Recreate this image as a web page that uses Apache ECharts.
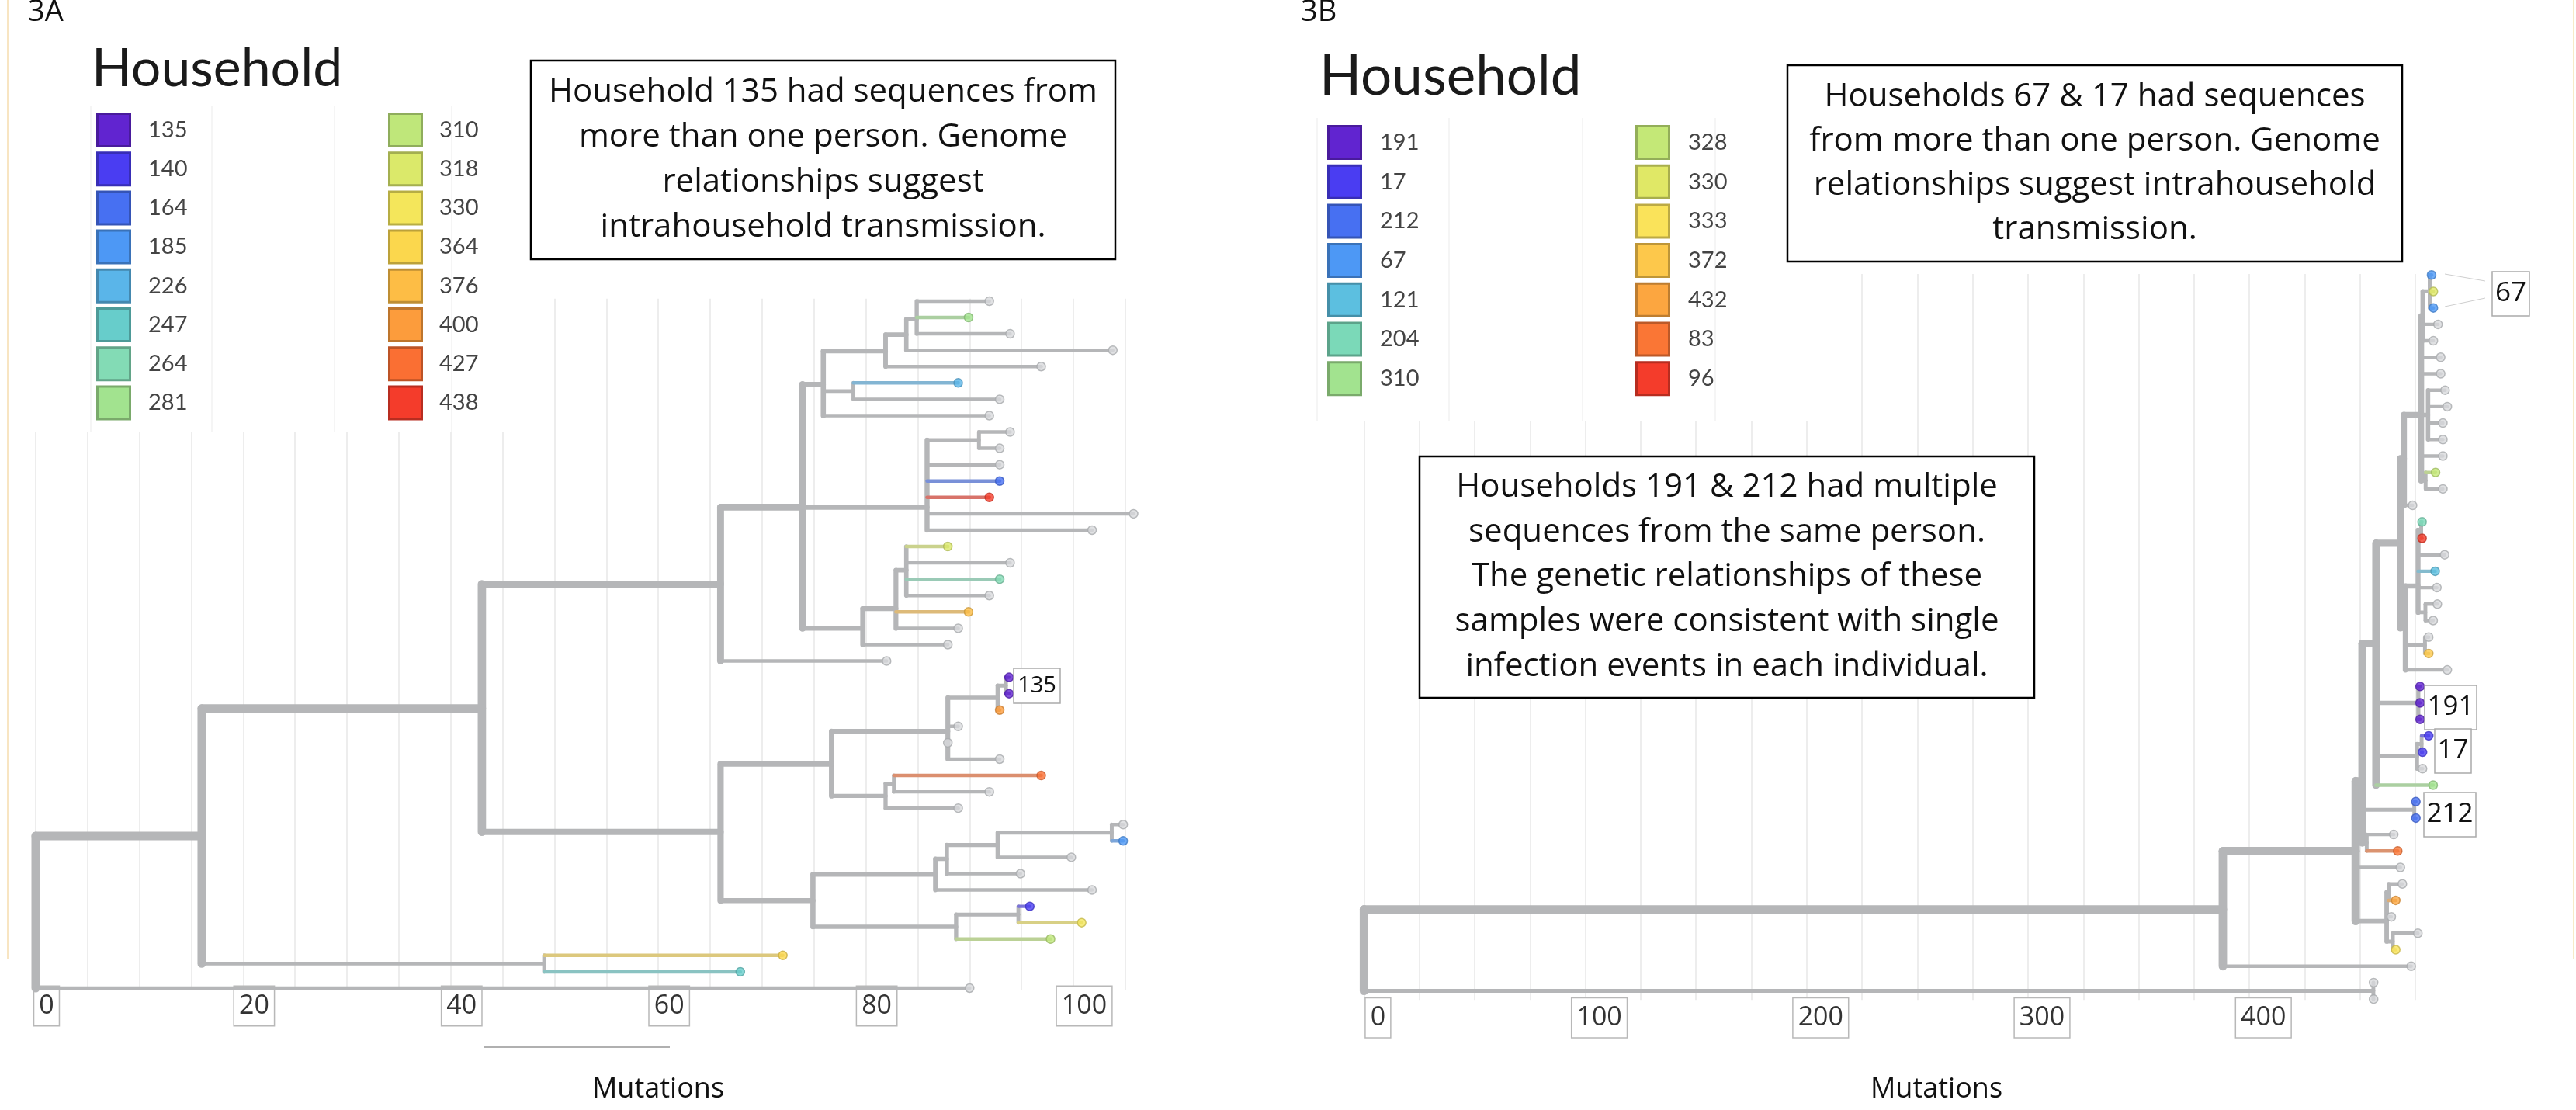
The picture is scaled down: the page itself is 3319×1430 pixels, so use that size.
<!DOCTYPE html>
<html><head><meta charset="utf-8">
<script src="https://cdn.jsdelivr.net/npm/echarts@6/dist/echarts.min.js"></script>
<style>html,body{margin:0;padding:0;background:#fff}#c{width:3319px;height:1430px}</style>
</head><body><div id="c"></div>
<script>
// ---------------- DATA ----------------
const legendHouseA = ['135','140','164','185','226','247','264','281','310','318','330','364','376','400','427','438'];
const legendColorA = ['#6124d0','#4a3df2','#4770f2','#4d98f5','#5ab5e9','#67cdcb','#83dbb5','#a2e38f','#bfe77a','#dbe96a','#f4e65b','#fbd74d','#fdbd45','#fc9c3c','#fa6f33','#f43c2b'];
const legendHouseB = ['191','17','212','67','121','204','310','328','330','333','372','432','83','96'];
const legendColorB = ['#6124d0','#4a3df2','#4770f2','#4d98f5','#5cbfe0','#7bd9b8','#a2e38f','#c4e877','#e0e866','#fae35a','#fdc84b','#fca640','#fa7635','#f43c2b'];

const tickLabelsA = [0,20,40,60,80,100];
const tickLabelsB = [0,100,200,300,400];

// tree nodes: [id, parent, mutations, row, household]
const treeA = [
 ['r',null,0,37.35,''],
 ['n1','r',16,32.7,''], ['t42','r',90,42,''],
 ['n2','n1',43,24.9,''], ['n3','n1',49,40.5,''],
 ['t40','n3',72,40,'364'], ['t41','n3',67.9,41,'247'],
 ['n4','n2',66,17.3,''], ['n5','n2',66,32.45,''],
 ['nx','n4',73.9,12.6,''], ['t22','n4',82,22,''],
 ['ne','nx',75.9,5.1,''], ['nf','nx',85.9,12.6,''], ['nh','nx',79.7,20,''],
 ['nc','ne',81.9,3.05,''], ['nd','ne',78.8,5.5,''], ['t7','ne',91.9,7,''],
 ['nb','nc',83.9,2.05,''], ['t4','nc',96.9,4,''],
 ['na','nb',84.9,1.1,''], ['t3','nb',103.8,3,''],
 ['t0','na',91.9,0,''], ['t1','na',89.9,1,'281'], ['t2','na',93.9,2,''],
 ['t5','nd',88.9,5,'226'], ['t6','nd',92.9,6,''],
 ['ng','nf',90.9,8.5,''], ['t8','ng',93.9,8,''], ['t9','ng',92.9,9,''],
 ['t10','nf',92.9,10,''], ['t11','nf',92.9,11,'164'], ['t12','nf',91.9,12,'438'],
 ['t13','nf',105.8,13,''], ['t14','nf',101.8,14,''],
 ['ni','nh',82.9,18.8,''], ['t21','nh',87.9,21,''],
 ['nj','ni',83.9,16.45,''], ['t19','ni',89.9,19,'376'], ['t20','ni',88.9,20,''],
 ['t15','nj',87.9,15,'318'], ['t16','nj',93.9,16,''], ['t17','nj',92.9,17,'264'], ['t18','nj',91.9,18,''],
 ['no','n5',76.7,28.3,''], ['np','n5',74.9,36.65,''],
 ['nl','no',87.9,26.3,''], ['nn','no',81.9,30.25,''],
 ['nk','nl',92.7,24.25,''], ['t26','nl',88.9,26,''], ['t27','nl',87.9,27,''], ['t28','nl',92.9,28,''],
 ['n135','nk',93.5,23.5,''], ['t23','n135',93.8,23,'135'], ['t24','n135',93.8,24,'135'], ['t25','nk',92.9,25,'400'],
 ['nm','nn',82.7,29.5,''], ['t31','nn',88.9,31,''],
 ['t29','nm',96.9,29,'427'], ['t30','nm',91.9,30,''],
 ['nt','np',86.7,35.05,''], ['nv','np',88.7,38.25,''],
 ['ns','nt',87.8,34.1,''], ['t36','nt',101.8,36,''],
 ['nr','ns',92.7,33.25,''], ['t35','ns',94.9,35,''],
 ['nq','nr',103.7,32.5,''], ['t34','nr',99.8,34,''],
 ['t32','nq',104.8,32,''], ['t33','nq',104.8,33,'185'],
 ['nu','nv',94.7,37.5,''], ['t39','nv',97.8,39,'310'],
 ['t37','nu',95.8,37,'140'], ['t38','nu',100.8,38,'330']
];

const treeB = [
 ['r',null,0,41,''],
 ['b1','r',388,38.55,''], ['r2','r',456,43.5,''],
 ['t43','r2',456.1,43,''], ['t44','r2',456.1,44,''],
 ['b3','b1',448,35,''], ['t42','b1',473.1,42,''],
 ['b4','b3',451,30.75,''], ['t36','b3',468.2,36,''], ['lb','b3',462,39.26,''],
 ['P','b4',457.2,22.4,''], ['n212','b4',474.5,32.5,''], ['b5','b4',453,34.5,''],
 ['t32','n212',475.2,32,'212'], ['t33','n212',475.2,33,'212'],
 ['t34','b5',465.2,34,''], ['t35','b5',467,35,'83'],
 ['la','lb',462.9,37.5,''], ['t39','lb',464.1,39,''], ['lc','lb',464.8,40.5,''],
 ['t37','la',469.1,37,''], ['t38','la',466.1,38,'432'],
 ['t40','lc',476.1,40,''], ['t41','lc',466.1,41,'333'],
 ['Q','P',468.2,16.3,''], ['n191','P',476.3,26,''], ['n17','P',475.7,29.25,''], ['t31','P',483,31,'310'],
 ['t25','n191',477.1,25,'191'], ['t26','n191',477.1,26,'191'], ['t27','n191',477.1,27,'191'],
 ['S','n17',477.8,28.5,''], ['t30','n17',478.2,30,''],
 ['t28','S',481,28,'17'], ['t29','S',478.2,29,'17'],
 ['Q2','Q',469.8,11.15,''], ['Q3','Q',470.5,21.45,''],
 ['U','Q2',477.6,8.5,''], ['t14','Q2',473.7,14,''],
 ['M','Q3',476.2,18.9,''], ['n2223','Q3',479.3,22.5,''], ['t24','Q3',489.4,24,''],
 ['U1','U',478.3,2.5,''], ['t5','U',486.4,5,''], ['t6','U',486.4,6,''], ['U3','U',480.7,8.5,''], ['t11','U',487.4,11,''], ['U4','U',479.6,12.5,''],
 ['n67','U1',481.5,1,''], ['t3','U1',485.2,3,''], ['t4','U1',483.1,4,''],
 ['t0','n67',482.3,0,'67'], ['t1','n67',483.1,1,'330'], ['t2','n67',483.1,2,'67'],
 ['t7','U3',488.4,7,''], ['t8','U3',489.4,8,''], ['t9','U3',487.4,9,''], ['t10','U3',487.4,10,''],
 ['t12','U4',484.1,12,'328'], ['t13','U4',487.4,13,''],
 ['TR','M',477.6,15.5,''], ['t17','M',488.2,17,''], ['t18','M',483.9,18,'121'], ['t19','M',484.7,19,''], ['n2021','M',479.5,20.5,''],
 ['t15','TR',478,15,'204'], ['t16','TR',478,16,'96'],
 ['t20','n2021',484.9,20,''], ['t21','n2021',483,21,''],
 ['t22','n2223',481,22,''], ['t23','n2223',481,23,'372']
];

const textA = ['Household 135 had sequences from','more than one person. Genome','relationships suggest','intrahousehold transmission.'];
const textB1 = ['Households 67 & 17 had sequences','from more than one person. Genome','relationships suggest intrahousehold','transmission.'];
const textB2 = ['Households 191 & 212 had multiple','sequences from the same person.','The genetic relationships of these','samples were consistent with single','infection events in each individual.'];

// ---------------- HELPERS ----------------
const GRAY = '#b5b6b8';
const FONT = "'Open Sans', 'Liberation Sans', sans-serif";
function hex2rgb(h){h=h.replace('#','');return [parseInt(h.substr(0,2),16),parseInt(h.substr(2,2),16),parseInt(h.substr(4,2),16)];}
function rgb2hex(c){return '#'+c.map(v=>Math.max(0,Math.min(255,Math.round(v))).toString(16).padStart(2,'0')).join('');}
function mix(a,b,t){const A=hex2rgb(a),B=hex2rgb(b);return rgb2hex(A.map((v,i)=>v*(1-t)+B[i]*t));}
function darken(a,f){return rgb2hex(hex2rgb(a).map(v=>v*f));}

function buildTree(nodes, houses, colors){
  const cmap = {}; houses.forEach((h,i)=>cmap[h]=colors[i]);
  const byId = {}; const list = [];
  nodes.forEach(n=>{const o={id:n[0],parent:n[1],x:n[2],y:n[3],hh:n[4],children:[]};byId[o.id]=o;list.push(o);});
  list.forEach(o=>{if(o.parent) byId[o.parent].children.push(o);});
  function cnt(o){o.tips = o.children.length? o.children.reduce((s,c)=>s+cnt(c),0):1;return o.tips;}
  const root = list.find(o=>!o.parent); const N = cnt(root);
  const wid = o => 3.3 + 7.7*Math.sqrt(o.tips/N);
  const grey=[], col=[], tips=[];
  list.forEach(o=>{
    if(o.children.length){
      const ys = o.children.map(c=>c.y).concat([o.y]);
      grey.push({s:[o.x,Math.min(...ys),o.x,Math.max(...ys)],w:wid(o),c:GRAY});
    }
    if(o.parent){
      const p = byId[o.parent];
      const seg = {s:[p.x,o.y,o.x,o.y],w:wid(o),c:GRAY};
      if(o.hh && cmap[o.hh]){seg.c = mix(cmap[o.hh], GRAY, 0.45); col.push(seg);} else grey.push(seg);
    }
    if(!o.children.length){
      const c = o.hh && cmap[o.hh];
      tips.push({value:[o.x,o.y],itemStyle:{color:c?c:'#d8dadc',borderColor:c?darken(c,0.8):'#a8aaad',borderWidth:1.5}});
    }
  });
  return {segs: grey.concat(col), tips};
}
const TA = buildTree(treeA, legendHouseA, legendColorA);
const TB = buildTree(treeB, legendHouseB, legendColorB);

function branchSeries(T, xi){
  return {type:'custom', xAxisIndex:xi, yAxisIndex:xi, clip:false, silent:true, z:2,
    data: T.segs.map(s=>s.s),
    renderItem:(params,api)=>{
      const seg = T.segs[params.dataIndex];
      const p0 = api.coord([api.value(0),api.value(1)]);
      const p1 = api.coord([api.value(2),api.value(3)]);
      return {type:'line',shape:{x1:p0[0],y1:p0[1],x2:p1[0],y2:p1[1]},style:{stroke:seg.c,lineWidth:seg.w,lineCap:'round'}};
    }};
}
function tipSeries(T, xi){
  return {type:'scatter', xAxisIndex:xi, yAxisIndex:xi, clip:false, silent:true, z:4, symbolSize:11, data:T.tips};
}
function gridAxis(max, interval){
  return {type:'value', min:0, max, interval, axisLine:{show:false}, axisTick:{show:false}, axisLabel:{show:false},
    splitLine:{show:true, showMaxLine:false, lineStyle:{color:'#e7e7e7', width:1.5}}};
}
function labelAxis(gi, max, interval, labels, margin){
  return {type:'value', gridIndex:gi, min:0, max, interval, axisLine:{show:false}, axisTick:{show:false}, splitLine:{show:false},
    axisLabel:{show:true, margin, showMaxLabel:false,
      formatter:v=>labels.indexOf(v)>=0?'{b|'+v+'}':'',
      rich:{b:{fontFamily:FONT,fontSize:34,color:'#333',lineHeight:38,borderColor:'#b8b8b8',borderWidth:1.5,backgroundColor:'#fff',padding:[8,6,8,6]}}}};
}

// ---------------- GRAPHICS ----------------
const G = [];
G.push({type:'rect',z:1,shape:{x:0,y:0,width:680,height:557},style:{fill:'#fff'}});
G.push({type:'rect',z:1,shape:{x:1665,y:0,width:695,height:543},style:{fill:'#fff'}});
[117,273,431,582].forEach(x=>G.push({type:'line',z:1,shape:{x1:x,y1:136,x2:x,y2:557},style:{stroke:'#f2f2f2',lineWidth:1.5}}));
[1697,1867,2039,2210].forEach(x=>G.push({type:'line',z:1,shape:{x1:x,y1:152,x2:x,y2:543},style:{stroke:'#f2f2f2',lineWidth:1.5}}));
G.push({type:'line',z:5,shape:{x1:10,y1:0,x2:10,y2:1235},style:{stroke:'#f6dcae',lineWidth:1.5}});
G.push({type:'line',z:5,shape:{x1:3316,y1:0,x2:3316,y2:1235},style:{stroke:'#f3e4b4',lineWidth:1.5}});
function txt(t,x,y,size,opt){opt=opt||{};
  G.push({type:'text',z:10,style:{text:t,x,y,font:(opt.weight||'normal')+' '+size+'px '+(opt.family||FONT),fill:opt.color||'#111',
    align:opt.align||'center',verticalAlign:'middle',textAlign:opt.align||'center',textVerticalAlign:'middle',lineHeight:opt.lh||size*1.2}});}
txt('3A',36,16,38,{align:'left'});
txt('3B',1676,16,38,{align:'left'});
// legends
function legend(houses, colors, perCol, sx, lx, top, step, title, tx, ty, tsize){
  txt(title, tx, ty, tsize, {align:'left', family:"Lato, sans-serif", color:'#1a1a1a'});
  houses.forEach((h,i)=>{
    const c = Math.floor(i/perCol), r = i%perCol;
    const y = top + r*step;
    G.push({type:'rect',z:10,shape:{x:sx[c]+1.5,y:y+1.5,width:42,height:42},style:{fill:colors[i],stroke:darken(colors[i],0.75),lineWidth:3}});
    txt(h, lx[c], y+22.5, 29, {align:'left', family:"Lato, sans-serif", color:'#444'});
  });
}
legend(legendHouseA, legendColorA, 8, [124,500], [191,566], 145, 50.2, 'Household', 118, 89, 68);
legend(legendHouseB, legendColorB, 7, [1710,2107], [1778,2175], 161, 50.7, 'Household', 1700, 99.5, 71);
// text boxes
function box(lines, x0,y0,x1,y1, size, lh){
  G.push({type:'rect',z:9,shape:{x:x0,y:y0,width:x1-x0,height:y1-y0},style:{fill:'#fff',stroke:'#000',lineWidth:2.5}});
  txt(lines.join('\n'), (x0+x1)/2, (y0+y1)/2, size, {lh, color:'#111'});
}
box(textA, 684,78,1437,334, 42, 57.7);
box(textB1, 2303,84,3095,337, 42, 57.3);
box(textB2, 1829,588,2621,899, 42, 57.8);
// tip annotation labels
function tag(t,x,y,w,h,size){
  G.push({type:'rect',z:9,shape:{x,y,width:w,height:h},style:{fill:'#fff',stroke:'#aaaaaa',lineWidth:1.5}});
  txt(t,x+w/2,y+h/2,size,{color:'#111'});
}
tag('135',1306,861,60,45,29);
tag('67',3211,350,48,57,35);
tag('191',3124,883,67,57,35);
tag('17',3137,939,47,57,35);
tag('212',3123,1021,67,57,35);
G.push({type:'line',z:9,shape:{x1:3150,y1:353,x2:3202,y2:362},style:{stroke:'#cfcfcf',lineWidth:1}});
G.push({type:'line',z:9,shape:{x1:3150,y1:395,x2:3202,y2:384},style:{stroke:'#cfcfcf',lineWidth:1}});
G.push({type:'line',z:5,shape:{x1:624,y1:1349,x2:863,y2:1349},style:{stroke:'#b0b0b0',lineWidth:2}});
txt('Mutations',848,1404,36,{color:'#111'});
txt('Mutations',2495,1404,36,{color:'#111'});

// ---------------- CHART ----------------
const chart = echarts.init(document.getElementById('c'), null, {renderer:'canvas'});
const gA = {top:384.8, height:890.3, width:1417.2};
const gB = {top:353, height:935.2, width:1397.5};
chart.setOption({
  animation:false,
  backgroundColor:'#fff',
  grid:[
    Object.assign({left:46}, gA),
    Object.assign({left:60}, gA),
    Object.assign({left:1757.4}, gB),
    Object.assign({left:1775.4}, gB)
  ],
  xAxis:[
    Object.assign({gridIndex:0}, gridAxis(106,5)),
    labelAxis(1,106,20,tickLabelsA,2),
    Object.assign({gridIndex:2}, gridAxis(490,25)),
    labelAxis(3,490,100,tickLabelsB,4)
  ],
  yAxis:[
    {type:'value',gridIndex:0,inverse:true,min:-0.15,max:42.1,show:false},
    {type:'value',gridIndex:1,inverse:true,min:-0.15,max:42.1,show:false},
    {type:'value',gridIndex:2,inverse:true,min:-0.06,max:44.05,show:false},
    {type:'value',gridIndex:3,inverse:true,min:-0.06,max:44.05,show:false}
  ],
  series:[
    branchSeries(TA,0), tipSeries(TA,0),
    branchSeries(TB,2), tipSeries(TB,2)
  ],
  graphic:{elements:G}
});
</script></body></html>
